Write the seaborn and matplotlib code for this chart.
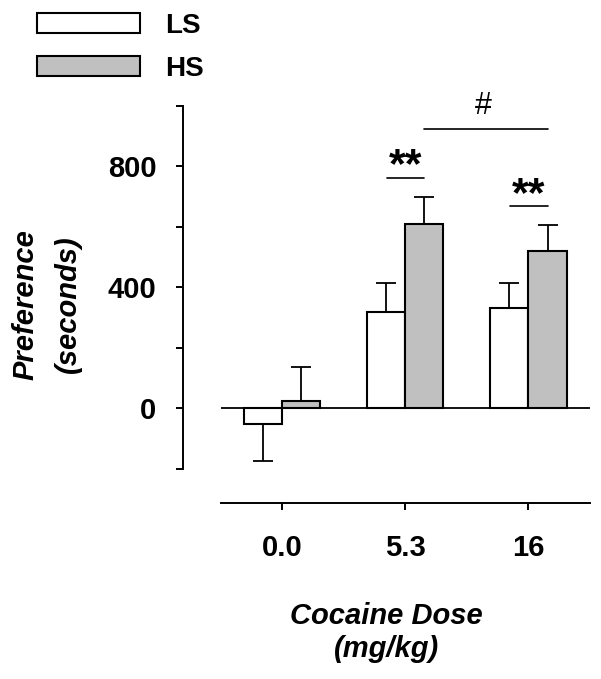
import numpy as np
import pandas as pd
import seaborn as sns
import matplotlib.pyplot as plt
from matplotlib.patches import Patch

# values (seconds)
doses = ["0.0", "5.3", "16"]
groups = ["LS", "HS"]
ls_mean = [-53, 318, 330]
hs_mean = [22, 608, 521]
ls_sem = [121, 95, 83]
hs_sem = [115, 92, 84]
bar_colors = {"LS": "white", "HS": "#c0c0c0"}

df = pd.DataFrame({
    "dose": doses * 2,
    "group": ["LS"] * 3 + ["HS"] * 3,
    "pref": ls_mean + hs_mean,
})

sns.set_style("ticks")
plt.rcParams["font.family"] = ["Liberation Sans", "DejaVu Sans"]
plt.rcParams["font.weight"] = "bold"
plt.rcParams["axes.linewidth"] = 1.4
plt.rcParams["axes.edgecolor"] = "black"
plt.rcParams["text.color"] = "black"
plt.rcParams["axes.labelcolor"] = "black"
plt.rcParams["xtick.color"] = "black"
plt.rcParams["ytick.color"] = "black"

fig = plt.figure(figsize=(6.01, 6.79), dpi=100)
ax = fig.add_axes([183 / 601, 176 / 679, 407 / 601, 397 / 679])

sns.barplot(data=df, x="dose", y="pref", hue="group", order=doses, hue_order=groups,
            palette=bar_colors, saturation=1, width=0.62, gap=0, errorbar=None,
            edgecolor="black", linewidth=1.5, legend=False, ax=ax)

# one-sided SEM bars
for cont, sems in zip(ax.containers, [ls_sem, hs_sem]):
    for bar, s in zip(cont, sems):
        x = bar.get_x() + bar.get_width() / 2
        y = bar.get_height()
        err = [[0], [s]] if y >= 0 else [[s], [0]]
        ax.errorbar(x, y, yerr=err, fmt="none", ecolor="black", elinewidth=1.3,
                    capsize=7.5, capthick=1.3, zorder=3)

# zero line
ax.hlines(0, -0.5, 2.5, color="black", lw=1.3, zorder=2)

ax.set_xlim(-0.805, 2.5)
ax.set_ylim(-314, 1000)
ax.set_yticks(np.arange(-200, 1001, 200))
ax.set_yticklabels(["" if v not in (0, 400, 800) else str(v) for v in range(-200, 1001, 200)])
sns.despine(ax=ax)
ax.spines["left"].set_bounds(-200, 1000)
ax.spines["bottom"].set_bounds(-0.5, 2.5)
ax.tick_params(axis="both", direction="out", length=5, width=1.4, labelsize=21, colors="black")
ax.tick_params(axis="x", pad=17)
ax.tick_params(axis="y", pad=14)

ax.set_xlabel("Cocaine Dose\n(mg/kg)", fontsize=21, fontweight="bold", style="italic",
              labelpad=29, linespacing=1.25)
ax.set_ylabel("Preference\n(seconds)", fontsize=21, fontweight="bold", style="italic",
              labelpad=19, linespacing=1.65)

# significance marks
ax.plot([0.851, 1.154], [763, 763], color="black", lw=1.2)
ax.text(1.0, 800, "**", ha="center", va="center", fontsize=31, fontweight="bold")
ax.plot([1.848, 2.157], [669, 669], color="black", lw=1.2)
ax.text(2.0, 706, "**", ha="center", va="center", fontsize=31, fontweight="bold")
ax.plot([1.149, 2.157], [925, 925], color="black", lw=1.2, clip_on=False)
ax.text(1.634, 1000, "#", ha="center", va="center", fontsize=22, fontweight="normal", clip_on=False)

handles = [Patch(facecolor=bar_colors[g], edgecolor="black", linewidth=1.5, label=g) for g in groups]
fig.legend(handles=handles, loc="upper left", bbox_to_anchor=(37 / 601, 1 - 13 / 679),
           frameon=False, fontsize=20, handlelength=3.7, handleheight=0.72,
           handletextpad=0.9, labelspacing=0.6, borderpad=0, borderaxespad=0)

fig.savefig("out.png", dpi=100)
